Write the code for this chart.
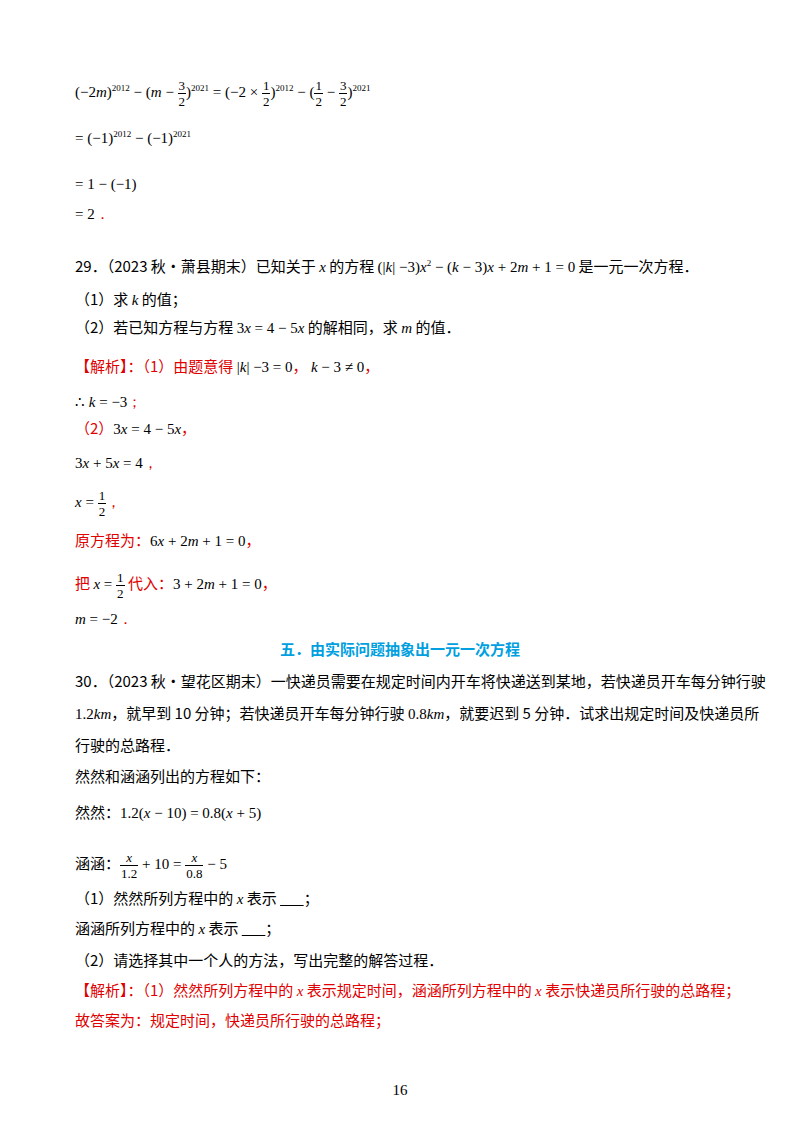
<!DOCTYPE html>
<html><head><meta charset="utf-8">
<script src="https://cdn.jsdelivr.net/npm/chart.js"></script>
<style>
body{margin:0;width:800px;height:1132px;background:#fff;position:relative;font-family:"Noto Sans CJK SC","Liberation Serif",serif;font-size:15px;color:#000}
.l{position:absolute;left:75px;white-space:nowrap;line-height:20px}
.m{font-family:"Liberation Serif",serif;font-size:15px}
i{font-family:"Liberation Serif",serif}
.r{color:#e00000}
.b{color:#00a0e0;font-weight:bold}
sup{font-size:9px;font-family:"Liberation Serif",serif}
.f{display:inline-block;vertical-align:middle;text-align:center;font-family:"Liberation Serif",serif;font-size:13px;line-height:15px}
.f span{display:block;padding:0 1px}
.f span:first-child{border-bottom:1px solid #000}
</style></head><body>
<div class="l m" style="top:78px">(−2<i>m</i>)<sup>2012</sup> − (<i>m</i> − <span class="f"><span>3</span><span>2</span></span>)<sup>2021</sup> = (−2 × <span class="f"><span>1</span><span>2</span></span>)<sup>2012</sup> − (<span class="f"><span>1</span><span>2</span></span> − <span class="f"><span>3</span><span>2</span></span>)<sup>2021</sup></div>
<div class="l m" style="top:124px">= (−1)<sup>2012</sup> − (−1)<sup>2021</sup></div>
<div class="l m" style="top:174px">= 1 − (−1)</div>
<div class="l m" style="top:204px">= 2<span class="r">．</span></div>
<div class="l" style="top:253px">29．（2023 秋•萧县期末）已知关于 <i>x</i> 的方程 <span class="m">(|<i>k</i>| −3)<i>x</i><sup>2</sup> − (<i>k</i> − 3)<i>x</i> + 2<i>m</i> + 1 = 0</span> 是一元一次方程．</div>
<div class="l" style="top:289px">（1）求 <i>k</i> 的值；</div>
<div class="l" style="top:317px">（2）若已知方程与方程 <span class="m">3<i>x</i> = 4 − 5<i>x</i></span> 的解相同，求 <i>m</i> 的值．</div>
<div class="l r" style="top:356px">【解析】：（1）由题意得 <span class="m" style="color:#000">|<i>k</i>| −3 = 0</span>， <span class="m" style="color:#000"><i>k</i> − 3 ≠ 0</span>，</div>
<div class="l m" style="top:392px">∴ <i>k</i> = −3<span class="r">；</span></div>
<div class="l" style="top:418px"><span class="r">（2）</span><span class="m">3<i>x</i> = 4 − 5<i>x</i></span><span class="r">，</span></div>
<div class="l m" style="top:453px">3<i>x</i> + 5<i>x</i> = 4<span class="r">，</span></div>
<div class="l m" style="top:488px"><i>x</i> = <span class="f"><span>1</span><span>2</span></span><span class="r">，</span></div>
<div class="l" style="top:530px"><span class="r">原方程为：</span><span class="m">6<i>x</i> + 2<i>m</i> + 1 = 0</span><span class="r">，</span></div>
<div class="l" style="top:570px"><span class="r">把</span> <span class="m"><i>x</i> = <span class="f"><span>1</span><span>2</span></span></span> <span class="r">代入：</span><span class="m">3 + 2<i>m</i> + 1 = 0</span><span class="r">，</span></div>
<div class="l m" style="top:609px"><i>m</i> = −2<span class="r">．</span></div>
<div class="l b" style="top:639px;left:0;width:800px;text-align:center">五．由实际问题抽象出一元一次方程</div>
<div class="l" style="top:671px">30．（2023 秋•望花区期末）一快递员需要在规定时间内开车将快递送到某地，若快递员开车每分钟行驶</div>
<div class="l" style="top:703px"><span class="m">1.2<i>km</i></span>，就早到 10 分钟；若快递员开车每分钟行驶 <span class="m">0.8<i>km</i></span>，就要迟到 5 分钟．试求出规定时间及快递员所</div>
<div class="l" style="top:735px">行驶的总路程．</div>
<div class="l" style="top:766px">然然和涵涵列出的方程如下：</div>
<div class="l" style="top:802px">然然：<span class="m">1.2(<i>x</i> − 10) = 0.8(<i>x</i> + 5)</span></div>
<div class="l" style="top:850px">涵涵：<span class="m"><span class="f"><span><i>x</i></span><span>1.2</span></span> + 10 = <span class="f"><span><i>x</i></span><span>0.8</span></span> − 5</span></div>
<div class="l" style="top:888px">（1）然然所列方程中的 <i>x</i> 表示 <u>&nbsp;&nbsp;&nbsp;&nbsp;&nbsp;&nbsp;&nbsp;</u>；</div>
<div class="l" style="top:918px">涵涵所列方程中的 <i>x</i> 表示 <u>&nbsp;&nbsp;&nbsp;&nbsp;&nbsp;&nbsp;&nbsp;</u>；</div>
<div class="l" style="top:950px">（2）请选择其中一个人的方法，写出完整的解答过程．</div>
<div class="l r" style="top:980px">【解析】：（1）然然所列方程中的 <i>x</i> 表示规定时间，涵涵所列方程中的 <i>x</i> 表示快递员所行驶的总路程；</div>
<div class="l r" style="top:1010px">故答案为：规定时间，快递员所行驶的总路程；</div>
<div class="l m" style="top:1080px;left:0;width:800px;text-align:center">16</div>
</body></html>
